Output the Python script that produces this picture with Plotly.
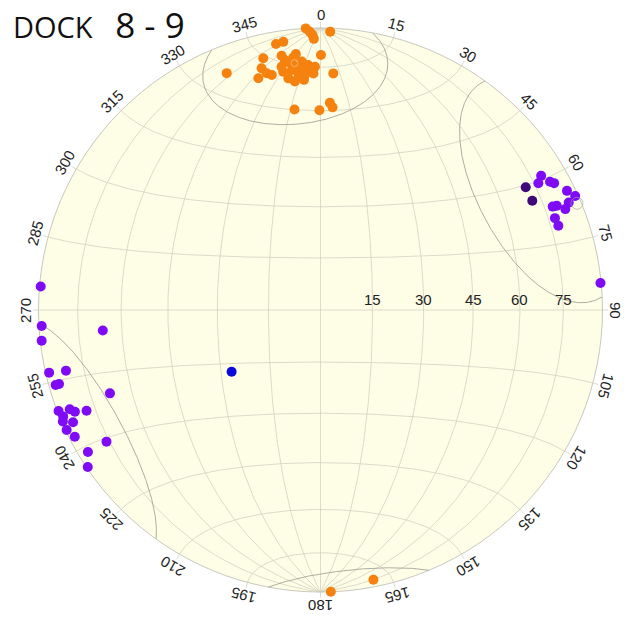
import numpy as np
import plotly.graph_objects as go

# ---------------- data (trend / plunge in degrees, lower hemisphere) ----------------
title_main = "DOCK"
title_sub = "8 - 9"

azimuth_labels = [0, 15, 30, 45, 60, 75, 90, 105, 120, 135, 150, 165,
                  180, 195, 210, 225, 240, 255, 270, 285, 300, 315, 330, 345]
radial_labels = [15, 30, 45, 60, 75]

orange_trend = [357.0, 357.8, 358.3, 358.6, 2.0, 350.5, 352.1, 0.1, 347.2, 351.3,
                354.5, 351.9, 353.0, 355.7, 357.1, 358.7, 358.3, 356.2, 354.6, 353.6,
                352.1, 351.1, 353.2, 355.1, 356.7, 350.9, 354.4, 346.3, 347.2, 348.3,
                345.0, 338.4, 3.1, 352.6, 359.7, 2.6, 3.4, 353.8, 355.9,
                177.9, 168.9]
orange_plunge = [0.0, 1.4, 2.7, 4.3, 1.4, 4.9, 4.5, 10.5, 9.3, 9.7,
                 9.7, 11.4, 12.9, 12.7, 14.1, 14.8, 17.2, 17.6, 18.0, 19.6,
                 18.2, 15.6, 15.4, 15.7, 15.9, 13.7, 14.4, 12.8, 15.0, 16.0,
                 16.0, 10.6, 17.1, 29.1, 29.9, 27.3, 28.8, 11.0, 19.3,
                 0.0, 2.9]

purple_trend = [58.7, 59.8, 60.8, 61.5, 64.2, 65.9, 66.6, 67.6, 66.0, 66.2,
                68.6, 70.5, 84.5,
                274.8, 266.7, 263.7, 264.6, 257.0, 256.6, 254.2, 254.2, 248.4, 248.9,
                248.4, 247.5, 247.5, 246.7, 246.6, 245.6, 244.7, 242.7, 238.4, 238.6,
                236.0]
purple_plunge = [9.3, 11.6, 7.5, 6.4, 3.3, 1.2, 4.6, 6.8, 10.8, 9.3,
                 11.7, 11.5, 0.3,
                 0.5, 1.1, 0.6, 23.5, 1.4, 8.0, 2.7, 4.1, 20.8, 0.5,
                 4.9, 6.4, 1.4, 10.6, 0.5, 4.1, 0.5, 2.2, 11.9, 3.8,
                 0.5]

dark_trend = [59.1, 62.7]
dark_plunge = [16.3, 16.6]

blue_trend = [235.2]
blue_plunge = [58.5]

# mean poles and confidence cones
cone_trend = [354.0, 61.5]
cone_plunge = [13.0, 7.0]
cone_radius = [21.0, 26.7]
mean_marker_trend = [354.0, 67.4]
mean_marker_plunge = [13.0, 1.7]

# ---------------- projection helpers (equal-area, lower hemisphere) ----------------
def vec(trend, plunge):
    t = np.radians(np.asarray(trend, float))
    p = np.radians(np.asarray(plunge, float))
    return np.cos(p) * np.cos(t), np.cos(p) * np.sin(t), np.sin(p)


def proj_vec(n, e, d):
    s = np.sqrt(1.0 + np.asarray(d))
    return np.asarray(e) / s, np.asarray(n) / s


def proj(trend, plunge):
    return proj_vec(*vec(trend, plunge))


def cone_xy(trend, plunge, radius, npts=721):
    a = np.array(vec(trend, plunge), float)
    tmp = np.array([0.0, 0.0, 1.0]) if abs(a[2]) < 0.9 else np.array([1.0, 0.0, 0.0])
    u = np.cross(a, tmp); u /= np.linalg.norm(u)
    v = np.cross(a, u)
    rho = np.radians(radius)
    xs, ys = [], []
    prev = None
    for phi in np.linspace(0, 2 * np.pi, npts):
        w = np.cos(rho) * a + np.sin(rho) * (np.cos(phi) * u + np.sin(phi) * v)
        flip = w[2] < 0
        if flip:
            w = -w
        if prev is not None and flip != prev:
            xs.append(None); ys.append(None)
        prev = flip
        x, y = proj_vec(w[0], w[1], w[2])
        xs.append(float(x)); ys.append(float(y))
    return xs, ys


fig = go.Figure()

GRID = "rgba(205,205,190,0.7)"

# net grid: great circles through N-S axis
gx, gy = [], []
t = np.linspace(0, np.pi, 181)
for dip in range(15, 91, 15):
    dr = np.radians(dip)
    for side in ([1, -1] if dip < 90 else [1]):
        n = np.cos(t)
        e = side * np.sin(t) * np.cos(dr)
        d = np.sin(t) * np.sin(dr)
        x, y = proj_vec(n, e, d)
        gx += list(x) + [None]; gy += list(y) + [None]
# small circles about N-S axis
for alpha in range(15, 166, 15):
    ar = np.radians(alpha)
    n = np.full_like(t, np.cos(ar))
    e = np.sin(ar) * np.cos(t)
    d = np.sin(ar) * np.sin(t)
    x, y = proj_vec(n, e, d)
    gx += list(x) + [None]; gy += list(y) + [None]
# short ticks outside primitive
for az in azimuth_labels:
    a = np.radians(az)
    gx += [np.sin(a), 1.02 * np.sin(a), None]
    gy += [np.cos(a), 1.02 * np.cos(a), None]
fig.add_trace(go.Scatter(x=gx, y=gy, mode="lines",
                         line=dict(color=GRID, width=1), hoverinfo="skip"))

# confidence cones
for tr, pl, rad in zip(cone_trend, cone_plunge, cone_radius):
    cx, cy = cone_xy(tr, pl, rad)
    fig.add_trace(go.Scatter(x=cx, y=cy, mode="lines",
                             line=dict(color="rgba(160,160,150,0.85)", width=1),
                             hoverinfo="skip"))

# data points
ox, oy = proj(orange_trend, orange_plunge)
fig.add_trace(go.Scatter(x=ox, y=oy, mode="markers",
                         marker=dict(size=10, color="#F5820F", line=dict(width=0))))
px_, py_ = proj(purple_trend, purple_plunge)
fig.add_trace(go.Scatter(x=px_, y=py_, mode="markers",
                         marker=dict(size=10, color="#7F0AF5", line=dict(width=0))))
dx_, dy_ = proj(dark_trend, dark_plunge)
fig.add_trace(go.Scatter(x=dx_, y=dy_, mode="markers",
                         marker=dict(size=10, color="#3E0878", line=dict(width=0))))
bx, by = proj(blue_trend, blue_plunge)
fig.add_trace(go.Scatter(x=bx, y=by, mode="markers",
                         marker=dict(size=10, color="#0A0ADC", line=dict(width=0))))

# mean markers
mx, my = proj(mean_marker_trend, mean_marker_plunge)
fig.add_trace(go.Scatter(x=mx, y=my, mode="markers",
                         marker=dict(size=[7, 12], symbol="circle-open",
                                     color=["rgba(255,200,150,0.9)", "rgba(160,160,150,0.9)"],
                                     line=dict(width=1))))

annotations = []
for az in azimuth_labels:
    a = np.radians(az)
    rr = 1.048
    annotations.append(dict(x=rr * np.sin(a), y=rr * np.cos(a), xref="x", yref="y",
                            text=str(az), showarrow=False, textangle=az,
                            font=dict(family="Liberation Sans, Arial", size=15, color="#222222"),
                            xanchor="center", yanchor="middle"))
for v in radial_labels:
    x, _ = proj([90], [90 - v])
    annotations.append(dict(x=float(x[0]), y=0, xref="x", yref="y", text=str(v),
                            showarrow=False, yshift=11,
                            font=dict(family="Liberation Sans, Arial", size=15, color="#222222"),
                            xanchor="center", yanchor="middle"))

W, H = 630, 620          # body margin removed below, figure fills the window
CX, CY, R = 320.5, 310.0, 282.0
annotations.append(dict(x=11 / W, y=1 - 25 / H, xref="paper", yref="paper",
                        text=title_main + "\u00a0\u00a0\u00a0"
                        + "<span style='font-size:35px'>" + title_sub + "</span>",
                        showarrow=False, xanchor="left", yanchor="middle",
                        font=dict(family="Open Sans, Noto Sans", size=29, color="#111111")))

fig.update_layout(
    width=W, height=H, autosize=False,
    margin=dict(l=0, r=0, t=0, b=0),
    paper_bgcolor="white", plot_bgcolor="white",
    showlegend=False,
    xaxis=dict(range=[-CX / R, (W - CX) / R], visible=False, fixedrange=True),
    yaxis=dict(range=[-(H - CY) / R, CY / R], visible=False, fixedrange=True),
    shapes=[dict(type="circle", xref="x", yref="y", x0=-1, y0=-1, x1=1, y1=1,
                 fillcolor="#FEFDE6", line=dict(color="rgba(200,200,190,1)", width=1),
                 layer="below")],
    annotations=annotations,
)

fig.write_html("out.html",
               config={"displayModeBar": False, "staticPlot": True},
               post_script="document.body.style.margin='0px';"
                           "document.body.style.overflow='hidden';")
